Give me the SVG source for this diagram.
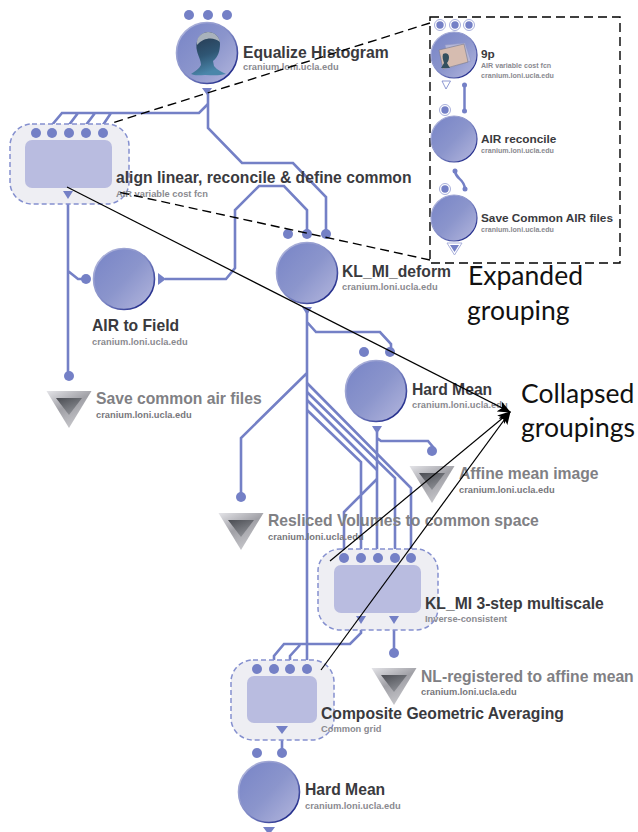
<svg xmlns="http://www.w3.org/2000/svg" width="638" height="832" viewBox="0 0 638 832">
<defs>
<linearGradient id="ball" x1="0.1" y1="0.15" x2="0.9" y2="0.9"><stop offset="0" stop-color="#7c88c8"/><stop offset="0.5" stop-color="#8b95cc"/><stop offset="1" stop-color="#acb0da"/></linearGradient>
<linearGradient id="rim" x1="0.15" y1="0.15" x2="0.85" y2="0.85"><stop offset="0" stop-color="#a9afd8"/><stop offset="0.55" stop-color="#7c86c4"/><stop offset="1" stop-color="#27318e"/></linearGradient>
<linearGradient id="triOut" x1="0" y1="0" x2="0.6" y2="1"><stop offset="0" stop-color="#e4e4e8"/><stop offset="0.5" stop-color="#a0a0a6"/><stop offset="1" stop-color="#c8c8cc"/></linearGradient>
<linearGradient id="triIn" x1="0" y1="0" x2="0.6" y2="1"><stop offset="0" stop-color="#4a4c52"/><stop offset="1" stop-color="#8e9096"/></linearGradient>
<linearGradient id="bust" x1="0" y1="0" x2="0.3" y2="1"><stop offset="0" stop-color="#26344a"/><stop offset="0.6" stop-color="#2f5674"/><stop offset="1" stop-color="#4a86aa"/></linearGradient>
<marker id="ah" markerWidth="13" markerHeight="11" refX="12" refY="5.500" orient="auto" markerUnits="userSpaceOnUse"><path d="M0 0L13 5.500L0 11L3 5.500Z" fill="#000"/></marker>
<symbol id="ballS" overflow="visible"><circle r="30.5" fill="url(#ball)" stroke="url(#rim)" stroke-width="1.6"/></symbol>
<symbol id="triS" overflow="visible"><path d="M-22.500 0H22.500L0 37Z" fill="url(#triOut)"/><path d="M-13 7H13L0 24Z" fill="url(#triIn)"/></symbol>
</defs>
<style>
text{font-family:"Liberation Sans",Arial,sans-serif}
.t{font-weight:700;font-size:15.700px;fill:#3a3a3e}
.tg{font-weight:700;font-size:15.700px;fill:#808084}
.s{font-weight:700;font-size:9.300px;fill:#8a8a90}
.s2{font-weight:700;font-size:9.300px;fill:#77777c}
.st{font-size:11.800px}
.ss{font-size:7.100px}
.note{font-family:Lato,"Open Sans",sans-serif;font-size:26.500px;fill:#111}
.w{fill:none;stroke:#7480c6;stroke-width:2.600;stroke-linejoin:miter}
.x{fill:none;stroke:#7480c6;stroke-width:2.500}
.d{fill:#7480c6}
.o{fill:#7480c6}
.grp{fill:#eeeef3;stroke:#8590cf;stroke-width:1.500;stroke-dasharray:5 3}
.in{fill:#b9bce0}
.blk{fill:none;stroke:#000;stroke-width:1.200}
.dash{fill:none;stroke:#000;stroke-width:1.400;stroke-dasharray:9 5}
.halo{fill:#fff;stroke:#a9b0dc;stroke-width:1}
.b2{fill:url(#ball);stroke:url(#rim);stroke-width:1.200}
</style>

<g id="connectors">
<path class="w" d="M208 92V128L242 163H293L326 197V230"/>
<path class="w" d="M208 104L199 113H62L52 125V131M78 113L69 125V131M95 113L86 125V131M111 113L103 125V131"/>
<path class="w" d="M68 195V374M68 271L78 279H84"/>
<path class="w" d="M165 279H226L235 268V210L259 186H284L307 210V232"/>
<path class="w" d="M307 308V666M307 322L316 332H380L391 344V350M307 373L241 438V495"/>
<path class="w" d="M377 432V556M377 438L381 441H428L433 447V450"/>
<path class="w" d="M307 383L411 488V556M307 392L395 478V556M307 400L377 470M307 410L361 462V556M377 479L344 512V556"/>
<path class="w" d="M361 620V633L350 644H284L274 656V666M300 645L290 656V666"/>
<path class="w" d="M394 620V651"/>
<path class="w" d="M282 730V751"/>
</g>

<g id="node-equalize">
<circle class="d" cx="189" cy="15" r="5"/><circle class="d" cx="208" cy="15" r="5"/><circle class="d" cx="227" cy="15" r="5"/>
<use href="#ballS" x="207" y="53"/>
<path d="M208 32C215 32 220 37 220 44C220 51 218 57 213 61L214 66C217 70 222 72 226 74C218 76 212 75 205 75C200 75 195 76 191 74C195 71 199 69 201 65C201 60 198 56 197 51C195 43 198 33 208 32Z" fill="url(#bust)"/>
<path d="M197 45C196 37 201 33 208 32C214 32 219 36 220 42C214 37 204 37 197 45Z" fill="#a9b2bc"/>
<path class="o" d="M202 88H212L207 95Z"/>
<text class="t" x="243" y="58">Equalize Histogram</text>
<text class="s" x="243" y="70">cranium.loni.ucla.edu</text>
</g>

<g id="node-align">
<rect class="grp" x="10" y="124" width="119" height="80" rx="22"/>
<rect class="in" x="25" y="140" width="87" height="48" rx="7"/>
<circle class="d" cx="36" cy="133" r="5"/><circle class="d" cx="52" cy="133" r="5"/><circle class="d" cx="69" cy="133" r="5"/><circle class="d" cx="86" cy="133" r="5"/><circle class="d" cx="103" cy="133" r="5"/>
<path class="o" d="M63 191H73L68 199Z"/>
<text class="t" x="116" y="183">align linear, reconcile &amp; define common</text>
<text class="s" x="116" y="197">AIR variable cost fcn</text>
</g>

<g id="node-airfield">
<circle class="d" cx="86" cy="279" r="5"/>
<use href="#ballS" x="124" y="279"/>
<path class="o" d="M158 273V285L166 279Z"/>
<text class="t" x="92" y="331">AIR to Field</text>
<text class="s" x="92" y="345">cranium.loni.ucla.edu</text>
</g>

<g id="node-savecommon">
<circle class="d" cx="69" cy="376" r="5"/>
<use href="#triS" x="69" y="391"/>
<text class="tg" x="96" y="404">Save common air files</text>
<text class="s2" x="96" y="418">cranium.loni.ucla.edu</text>
</g>

<g id="node-kldeform">
<circle class="d" cx="288" cy="234" r="5"/><circle class="d" cx="307" cy="234" r="5"/><circle class="d" cx="326" cy="234" r="5"/>
<use href="#ballS" x="307" y="273"/>
<path class="o" d="M302 307H312L307 315Z"/>
<text class="t" x="342" y="277">KL_MI_deform</text>
<text class="s" x="342" y="290">cranium.loni.ucla.edu</text>
</g>

<g id="node-hardmean1">
<circle class="d" cx="364" cy="352" r="5"/><circle class="d" cx="390" cy="352" r="5"/>
<use href="#ballS" x="376" y="391"/>
<path class="o" d="M372 426H382L377 434Z"/>
<text class="t" x="412" y="395">Hard Mean</text>
<text class="s" x="412" y="408">cranium.loni.ucla.edu</text>
</g>

<g id="node-affine">
<circle class="d" cx="432" cy="451" r="5"/>
<use href="#triS" x="432" y="466"/>
<text class="tg" x="459" y="479">Affine mean image</text>
<text class="s2" x="459" y="493">cranium.loni.ucla.edu</text>
</g>

<g id="node-resliced">
<circle class="d" cx="241" cy="497" r="5"/>
<use href="#triS" x="241" y="513"/>
<text class="tg" x="268" y="526">Resliced Volumes to common space</text>
<text class="s2" x="268" y="540">cranium.loni.ucla.edu</text>
</g>

<g id="node-klmi3">
<rect class="grp" x="318" y="549" width="120" height="81" rx="22"/>
<rect class="in" x="334" y="565" width="87" height="48" rx="7"/>
<circle class="d" cx="344" cy="558" r="5"/><circle class="d" cx="361" cy="558" r="5"/><circle class="d" cx="378" cy="558" r="5"/><circle class="d" cx="395" cy="558" r="5"/><circle class="d" cx="411" cy="558" r="5"/>
<path class="o" d="M356 616H366L361 624Z"/><path class="o" d="M389 616H399L394 624Z"/>
<text class="t" x="425" y="609">KL_MI 3-step multiscale</text>
<text class="s" x="425" y="622">Inverse-consistent</text>
</g>

<g id="node-nlreg">
<circle class="d" cx="394" cy="653" r="5"/>
<use href="#triS" x="394" y="668"/>
<text class="tg" x="421" y="682">NL-registered to affine mean</text>
<text class="s2" x="421" y="695">cranium.loni.ucla.edu</text>
</g>

<g id="node-composite">
<rect class="grp" x="231" y="660" width="103" height="80" rx="22"/>
<rect class="in" x="247" y="676" width="70" height="47" rx="7"/>
<circle class="d" cx="257" cy="669" r="5"/><circle class="d" cx="274" cy="669" r="5"/><circle class="d" cx="290" cy="669" r="5"/><circle class="d" cx="307" cy="669" r="5"/>
<path class="o" d="M276 726H288L282 734Z"/>
<text class="t" x="321" y="719">Composite Geometric Averaging</text>
<text class="s" x="321" y="732">Common grid</text>
</g>

<g id="node-hardmean2">
<circle class="d" cx="257" cy="753" r="5"/><circle class="d" cx="282" cy="753" r="5"/>
<use href="#ballS" x="269" y="792"/>
<path class="o" d="M263 827H275L269 835Z"/>
<text class="t" x="305" y="795">Hard Mean</text>
<text class="s" x="305" y="809">cranium.loni.ucla.edu</text>
</g>

<g id="expanded">
<path class="dash" d="M430 23L112 123M430 260L118 192"/>
<rect class="dash" x="430" y="17" width="190" height="246"/>
<g id="node-9p">
<circle class="halo" cx="440" cy="25" r="5.500"/><circle class="halo" cx="455" cy="25" r="5.500"/><circle class="halo" cx="469" cy="25" r="5.500"/>
<circle class="d" cx="440" cy="25" r="3.700"/><circle class="d" cx="455" cy="25" r="3.700"/><circle class="d" cx="469" cy="25" r="3.700"/>
<circle class="b2" cx="454" cy="55" r="23"/>
<path d="M445 45L465 43L471 61L450 68Z" fill="#b4b6d8" stroke="#8e95c4" stroke-width=".6"/>
<path d="M439 50L464 44L468 62L443 69Z" fill="#d6bcb0" stroke="#77788c" stroke-width=".6"/>
<path d="M443 54C446 52 449 54 449 57C449 60 448 62 447 63L450 68H441L444 63C443 60 442 57 443 54Z" fill="#34505f"/>
<path d="M442 81H450.500L446 89Z" fill="#fff" stroke="#7480c6" stroke-width=".8"/>
<text class="t st" x="481" y="58">9p</text>
<text class="s ss" x="481" y="68">AIR variable cost fcn</text>
<text class="s ss" x="481" y="78">cranium.loni.ucla.edu</text>
</g>
<path class="x" d="M464.500 85V111"/><circle class="d" cx="464.500" cy="85" r="2.500"/><circle class="d" cx="464.500" cy="111" r="2.500"/>
<g id="node-reconcile">
<circle class="halo" cx="445" cy="110" r="5.500"/><circle class="d" cx="445" cy="110" r="3.700"/>
<circle class="b2" cx="454" cy="139" r="23"/>
<text class="t st" x="481" y="143">AIR reconcile</text>
<text class="s ss" x="481" y="153">cranium.loni.ucla.edu</text>
</g>
<path class="x" d="M455 171C456 180 464 178 465 189"/><circle class="d" cx="455" cy="171" r="2.500"/><circle class="d" cx="465" cy="189" r="2.500"/>
<g id="node-savecommonair">
<circle class="halo" cx="445" cy="189" r="5.500"/><circle class="d" cx="445" cy="189" r="3.700"/>
<circle class="b2" cx="454" cy="218" r="23"/>
<path d="M447 243H462L454.500 255Z" fill="#fff" stroke="#a9b0dc" stroke-width="1"/><path d="M450 245H459L454.500 252Z" fill="#7480c6"/>
<text class="t st" x="481" y="222">Save Common AIR files</text>
<text class="s ss" x="481" y="232">cranium.loni.ucla.edu</text>
</g>
</g>

<g id="annotations">
<path class="blk" marker-end="url(#ah)" d="M67 187L510 412"/>
<path class="blk" marker-end="url(#ah)" d="M330 561L510 412"/>
<path class="blk" marker-end="url(#ah)" d="M321 670L510 412"/>
<text class="note" x="468" y="285">Expanded</text>
<text class="note" x="467" y="320">grouping</text>
<text class="note" x="521" y="403">Collapsed</text>
<text class="note" x="521" y="437">groupings</text>
</g>
</svg>
